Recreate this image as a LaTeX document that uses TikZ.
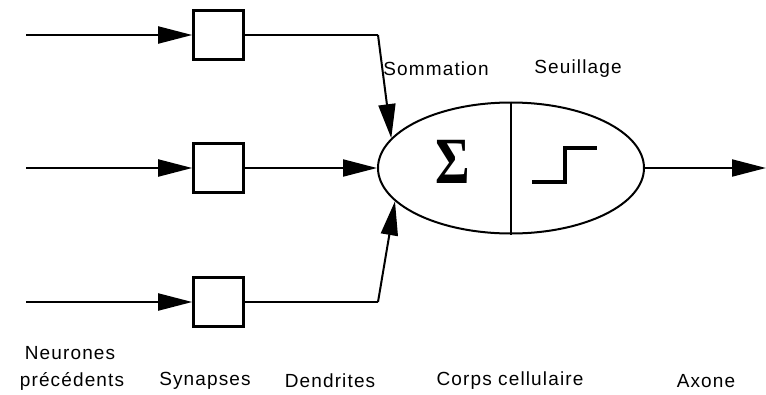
\documentclass[tikz,border=0pt]{standalone}
\usepackage{fontspec}
\setmainfont{Liberation Sans}[LetterSpace=6]
\newfontfamily\sigfont{Liberation Serif}
\usetikzlibrary{arrows.meta,shapes.geometric}
\begin{document}
\begin{tikzpicture}[x=1pt,y=-1pt,
  conn/.style={line width=2pt,-{Triangle[length=34pt,width=17pt]}},
  plain/.style={line width=2pt},
  synbox/.style={draw,line width=2.6pt,minimum width=50pt,minimum height=49pt,inner sep=0pt},
  lbl/.style={font=\fontsize{19}{22}\selectfont,inner sep=0pt}]
\useasboundingbox (0,0) rectangle (766,394);
\coordinate (in1) at (26,35);
\coordinate (in2) at (26,168);
\coordinate (in3) at (26,302);
\node[synbox] (s1) at (218.5,35) {};
\node[synbox] (s2) at (218.5,168) {};
\node[synbox] (s3) at (218.5,302) {};
\node[draw,ellipse,line width=2pt,minimum width=266pt,minimum height=131pt,inner sep=0pt] (soma) at (511,168) {};
\coordinate (c1) at (378,35);
\coordinate (c3) at (378,302);
\coordinate (out) at (766,168);
\draw[conn] (in1) -- (s1.west);
\draw[conn] (in2) -- (s2.west);
\draw[conn] (in3) -- (s3.west);
\draw[plain] (s1.east) -- (c1);
\draw[conn] (c1) -- (soma.166);
\draw[conn] (s2.east) -- (soma.west);
\draw[plain] (s3.east) -- (c3);
\draw[conn] (c3) -- (soma.196);
\draw[conn] (soma.east) -- (out);
\draw[line width=2pt] (soma.north) -- (soma.south);
\node[inner sep=0pt] (sig) at (453,162) {\scalebox{0.8}[1]{\sigfont\bfseries\fontsize{66}{68}\selectfont Σ}};
\draw[line width=3.5pt] (532,182) -- (565,182) -- (565,148) -- (597,148);
\node[lbl] (lsom) at (436,69) {Sommation};
\node[lbl] (lseu) at (578,69) {Seuillage};
\node[lbl] (lneu) at (70,353) {Neurones};
\node[lbl] (lpre) at (72,381) {précédents};
\node[lbl] (lsyn) at (205,381) {Synapses};
\node[lbl] (lden) at (330,381) {Dendrites};
\node[lbl] (lcor) at (510,381) {Corps cellulaire};
\node[lbl] (laxo) at (706,381) {Axone};
\end{tikzpicture}
\end{document}
